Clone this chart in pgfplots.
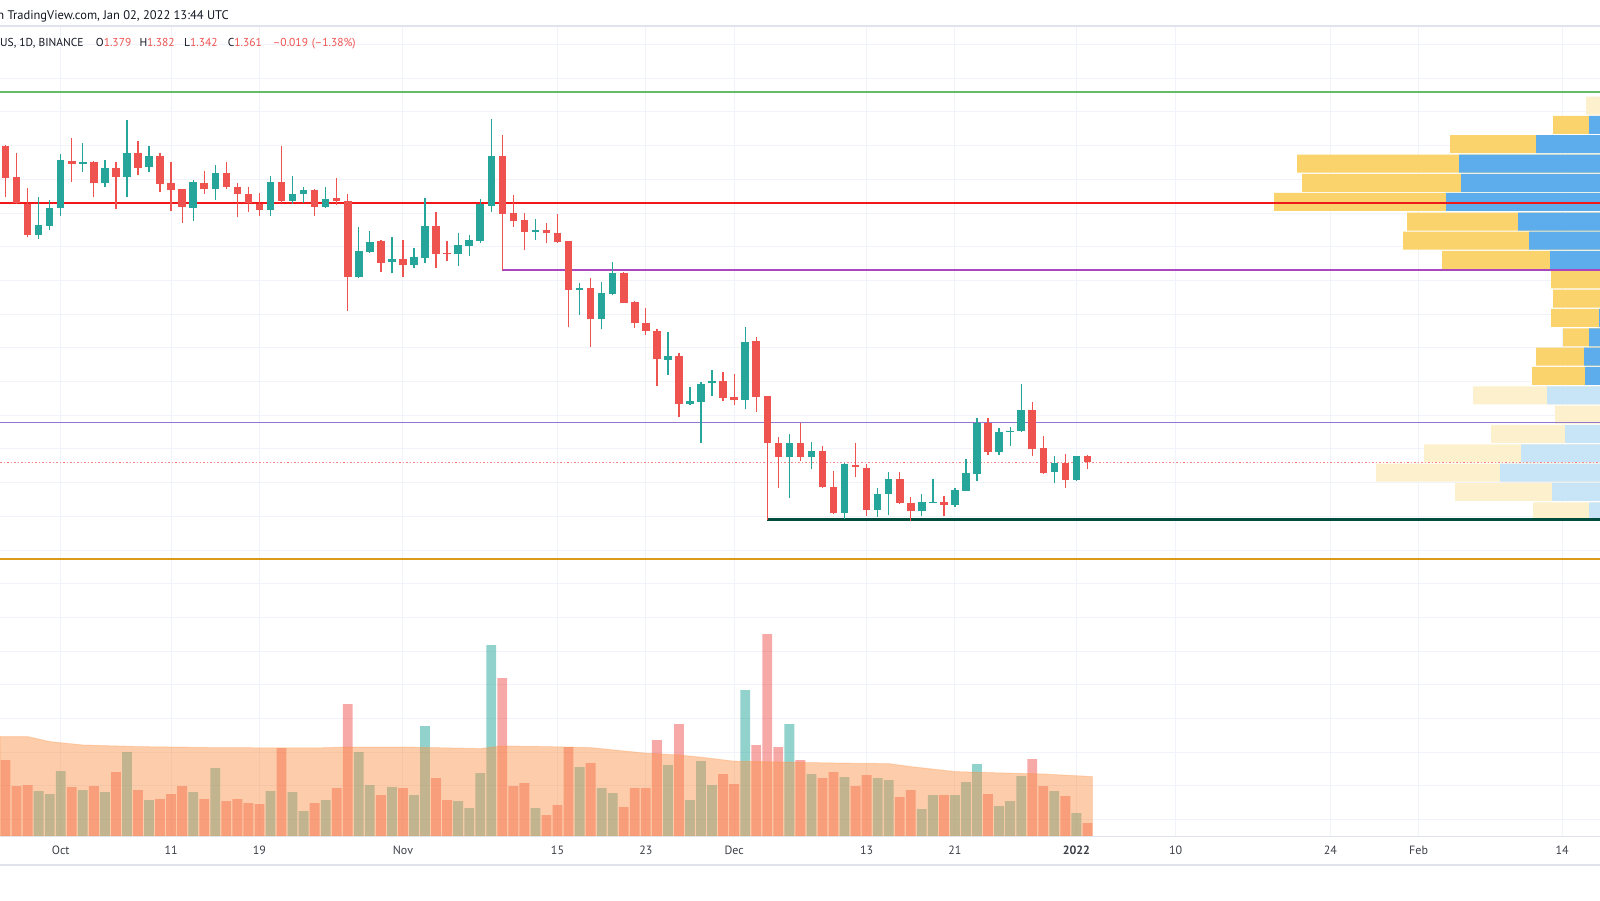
\documentclass[border=0pt]{standalone}
\usepackage{pgfplots}
\pgfplotsset{compat=1.18}
\usepackage{pgfplotstable}
\usepackage{fontspec}
\setmainfont{PT Sans}

\definecolor{tvgreen}{RGB}{38,166,154}
\definecolor{tvred}{RGB}{239,83,80}
\definecolor{gridc}{RGB}{240,243,250}
\definecolor{borderc}{RGB}{224,227,235}
\definecolor{txt}{RGB}{19,23,34}
\definecolor{ticktxt}{RGB}{60,63,72}
\definecolor{maorange}{RGB}{251,145,68}
\definecolor{vpy}{RGB}{251,211,108}
\definecolor{vpb}{RGB}{93,173,236}
\definecolor{vpyf}{RGB}{253,240,205}
\definecolor{vpbf}{RGB}{200,228,247}
\definecolor{lgreen}{RGB}{102,187,106}
\definecolor{lred}{RGB}{240,25,25}
\definecolor{lmag}{RGB}{171,71,188}
\definecolor{llav}{RGB}{149,117,205}
\definecolor{ldark}{RGB}{0,77,64}
\definecolor{lgold}{RGB}{218,155,25}

% daily candles, d = days from 1 Oct 2021, volume v in millions
\pgfplotstableread{
d o h l c v
-5 2.299 2.302 2.148 2.204 380
-4 2.206 2.278 2.127 2.130 250
-3 2.127 2.174 2.029 2.035 255
1 2.255 2.323 2.192 2.246 245
3 2.252 2.255 2.148 2.189 250
5 2.234 2.252 2.112 2.207 320
7 2.278 2.314 2.213 2.234 230
9 2.269 2.278 2.163 2.186 185
10 2.189 2.252 2.106 2.169 210
11 2.171 2.172 2.071 2.118 250
13 2.189 2.225 2.157 2.171 185
15 2.219 2.252 2.171 2.177 175
16 2.177 2.189 2.088 2.157 185
17 2.157 2.177 2.103 2.130 165
18 2.127 2.160 2.091 2.109 160
20 2.192 2.299 2.130 2.136 440
23 2.169 2.171 2.091 2.118 165
25 2.145 2.204 2.124 2.136 240
26 2.136 2.157 1.810 1.910 660
29 2.017 2.020 1.925 1.952 205
31 1.964 2.020 1.910 1.946 240
34 2.062 2.103 1.937 1.979 290
35 1.982 2.017 1.958 1.979 180
40 2.269 2.332 1.931 2.097 790
41 2.099 2.154 2.060 2.077 250
42 2.080 2.099 1.990 2.043 265
44 2.050 2.072 2.010 2.040 105
45 2.042 2.096 2.012 2.014 155
46 2.017 2.018 1.761 1.872 445
48 1.877 1.907 1.702 1.786 365
51 1.921 1.926 1.832 1.834 145
52 1.835 1.839 1.758 1.775 240
53 1.775 1.818 1.738 1.750 240
54 1.751 1.755 1.588 1.667 480
56 1.677 1.686 1.496 1.533 560
60 1.602 1.628 1.543 1.551 310
61 1.553 1.622 1.531 1.546 260
63 1.721 1.731 1.510 1.555 455
64 1.557 1.558 1.190 1.417 1010
65 1.419 1.435 1.285 1.377 445
67 1.419 1.478 1.365 1.377 380
69 1.395 1.410 1.284 1.286 290
70 1.287 1.336 1.207 1.209 320
72 1.353 1.417 1.318 1.346 250
73 1.345 1.356 1.202 1.219 305
76 1.311 1.333 1.237 1.239 195
77 1.240 1.259 1.185 1.217 230
80 1.243 1.261 1.201 1.235 205
84 1.478 1.491 1.382 1.390 210
88 1.516 1.540 1.379 1.400 385
89 1.402 1.439 1.326 1.330 250
91 1.359 1.384 1.283 1.307 200
93 1.379 1.382 1.342 1.361 65
}\dn

\pgfplotstableread{
d o h l c v
-2 2.035 2.148 2.023 2.065 225
-1 2.062 2.139 2.050 2.115 210
0 2.115 2.275 2.091 2.258 325
2 2.246 2.308 2.222 2.252 230
4 2.189 2.258 2.177 2.234 220
6 2.207 2.376 2.148 2.278 420
8 2.237 2.299 2.222 2.269 180
12 2.115 2.198 2.077 2.192 220
14 2.171 2.243 2.139 2.219 340
19 2.109 2.210 2.091 2.192 225
21 2.136 2.210 2.127 2.157 220
22 2.157 2.177 2.130 2.169 125
24 2.118 2.177 2.115 2.142 180
27 1.910 2.059 1.907 1.988 420
28 1.985 2.047 1.982 2.014 255
30 1.955 2.029 1.922 1.964 245
32 1.946 1.996 1.937 1.970 205
33 1.967 2.145 1.952 2.062 550
36 1.979 2.041 1.943 2.005 175
37 2.002 2.035 1.973 2.020 140
38 2.017 2.142 2.011 2.127 315
39 2.121 2.379 2.103 2.269 955
43 2.045 2.082 2.020 2.050 140
47 1.872 1.892 1.798 1.879 345
49 1.786 1.895 1.755 1.862 240
50 1.860 1.956 1.857 1.921 215
55 1.664 1.748 1.620 1.676 355
57 1.533 1.585 1.531 1.542 180
58 1.540 1.600 1.417 1.593 375
59 1.595 1.634 1.557 1.602 255
62 1.546 1.761 1.518 1.718 730
66 1.377 1.444 1.255 1.419 560
68 1.375 1.422 1.340 1.395 310
71 1.209 1.358 1.191 1.355 295
74 1.219 1.283 1.199 1.267 290
75 1.266 1.333 1.204 1.311 280
78 1.217 1.267 1.201 1.243 135
79 1.241 1.311 1.240 1.244 205
81 1.235 1.285 1.229 1.278 205
82 1.276 1.369 1.275 1.328 270
83 1.326 1.491 1.306 1.478 360
85 1.390 1.461 1.382 1.451 150
86 1.450 1.466 1.409 1.454 175
87 1.453 1.593 1.450 1.516 300
90 1.331 1.379 1.298 1.359 225
92 1.307 1.380 1.306 1.379 115
}\up

% volume moving average
\pgfplotstableread{
d v
-5.5 497
-3 497
-1 472
2 455
7 447
14 442
23 440
26 445
31 445
38 437
40 450
44 447
48 442
53 414
56 405
58 394
61 374
66 369
71 364
75 362
77 347
81 322
86 314
89 310
93.45 297
}\vma

% visible range volume profile: row price, total, up part
\pgfplotstableread{
p tot blue
2.362 47 11
2.305 150 64
2.247 303 141
2.190 298 139
2.133 326 154
2.075 193 82
2.018 197 71
1.961 158 50
1.903 49 0
1.846 47 0
1.789 49 1
1.731 37 11
1.674 64 16
1.617 68 15
}\vpin

\pgfplotstableread{
p tot blue
2.419 14 0
1.559 127 53
1.502 45 0
1.445 109 35
1.387 176 79
1.330 224 100
1.273 145 48
1.215 67 11
}\vpout

\pgfplotsset{
  pane/.style={scale only axis, width=1600pt, height=810pt,
    at={(0pt,0pt)}, anchor=south west, xmin=-5.5, xmax=139.43},
  prices/.style={ymin=0.2516, ymax=2.6552},
  candle/.style n args={2}{only marks, mark=*, mark size=0pt,
    mark options={draw=none, fill=none},
    error bars/.cd, y dir=plus, y explicit, error mark=none,
    error bar style={line width=#1, draw=#2}},
}

\begin{document}
\begin{tikzpicture}
\useasboundingbox (0pt,-64pt) rectangle (1600pt,836pt);

% grid and time axis
\begin{axis}[pane, prices,
  xtick={0,10,18,31,45,53,61,73,81,92,101,115,123,136},
  xticklabels={Oct,11,19,Nov,15,23,Dec,13,21,\textbf{2022},10,24,Feb,14},
  ytick={0.3,0.4,...,2.61}, yticklabels={},
  major tick length=0pt,
  xmajorgrids, ymajorgrids,
  grid style={draw=gridc, line width=1pt},
  axis line style={draw=none},
  xticklabel style={anchor=base, yshift=-18pt,
    font=\fontsize{12}{14}\selectfont, text=ticktxt},
]
\addplot[draw=none] coordinates {(0,1) (1,1)};
\end{axis}

% volume profile
\begin{axis}[pane, prices, hide axis, x dir=reverse, xmin=0, xmax=1600]
\addplot[xbar, bar width=0.0534, bar shift=0pt, fill=vpy, draw=none] table[x=tot, y=p] {\vpin};
\addplot[xbar, bar width=0.0534, bar shift=0pt, fill=vpb, draw=none] table[x=blue, y=p] {\vpin};
\addplot[xbar, bar width=0.0534, bar shift=0pt, fill=vpyf, draw=none] table[x=tot, y=p] {\vpout};
\addplot[xbar, bar width=0.0534, bar shift=0pt, fill=vpbf, draw=none] table[x=blue, y=p] {\vpout};
\end{axis}

% volume
\begin{axis}[pane, hide axis, ymin=0, ymax=4050]
\addplot[ybar, bar width=0.89, bar shift=0pt, fill=tvgreen, fill opacity=0.5, draw=none] table[x=d, y=v] {\up};
\addplot[ybar, bar width=0.89, bar shift=0pt, fill=tvred, fill opacity=0.5, draw=none] table[x=d, y=v] {\dn};
\addplot[fill=maorange, fill opacity=0.45, draw=maorange, draw opacity=0.3, line width=1pt] table[x=d, y=v] {\vma} \closedcycle;
\end{axis}

% price lines and candles
\begin{axis}[pane, prices, hide axis]
\addplot[lgold, line width=2pt] coordinates {(-5.5,1.073) (139.43,1.073)};
\addplot[lgreen, line width=2pt] coordinates {(-5.5,2.460) (139.43,2.460)};
\addplot[lred, line width=2.2pt] coordinates {(-5.5,2.129) (139.43,2.129)};
\addplot[llav, line width=1.5pt] coordinates {(-5.5,1.478) (139.43,1.478)};
\addplot[lmag, line width=2pt] coordinates {(40,1.931) (139.43,1.931)};
\addplot[ldark, line width=2.5pt] coordinates {(64,1.1905) (139.43,1.1905)};
\addplot[tvred!70, line width=1pt, dash pattern=on 1.5pt off 2pt] coordinates {(-5.5,1.361) (139.43,1.361)};

% wicks
\addplot[candle={1.3pt}{tvred}]
  table[x=d, y=l, y error plus expr=\thisrow{h}-\thisrow{l}] {\dn};
\addplot[candle={1.3pt}{tvgreen}]
  table[x=d, y=l, y error plus expr=\thisrow{h}-\thisrow{l}] {\up};
% bodies
\addplot[candle={7.5pt}{tvred}]
  table[x=d, y expr={min(\thisrow{o},\thisrow{c})},
        y error plus expr={max(abs(\thisrow{o}-\thisrow{c}),0.003)}] {\dn};
\addplot[candle={7.5pt}{tvgreen}]
  table[x=d, y expr={min(\thisrow{o},\thisrow{c})},
        y error plus expr={max(abs(\thisrow{o}-\thisrow{c}),0.003)}] {\up};
\end{axis}

% pane borders
\draw[borderc, line width=1.5pt] (0pt,810pt) -- (1600pt,810pt);
\draw[borderc, line width=1pt] (0pt,0pt) -- (1600pt,0pt);
\draw[borderc, line width=1.5pt] (0pt,-29pt) -- (1600pt,-29pt);

% header
\begin{scope}[every node/.style={inner sep=0pt, text=txt}]
\node[anchor=base east, font=\fontsize{12.5}{15}\selectfont] at (4.5pt,816pt) {on};
\node[anchor=base west, font=\fontsize{12.5}{15}\selectfont] at (7.3pt,816pt) {TradingView.com, Jan 02, 2022 13:44 UTC};
\node[anchor=base west, font=\fontsize{11.5}{14}\selectfont] at (0pt,789.3pt) {US, 1D, BINANCE};
\node[anchor=base west, font=\fontsize{11.5}{14}\selectfont] at (95.7pt,789.3pt) {O\textcolor{tvred}{1.379}};
\node[anchor=base west, font=\fontsize{11.5}{14}\selectfont] at (139.3pt,789.3pt) {H\textcolor{tvred}{1.382}};
\node[anchor=base west, font=\fontsize{11.5}{14}\selectfont] at (184pt,789.3pt) {L\textcolor{tvred}{1.342}};
\node[anchor=base west, font=\fontsize{11.5}{14}\selectfont] at (227.7pt,789.3pt) {C\textcolor{tvred}{1.361}};
\node[anchor=base west, font=\fontsize{11.5}{14}\selectfont, text=tvred] at (272.7pt,789.3pt) {–0.019};
\node[anchor=base west, font=\fontsize{11.5}{14}\selectfont, text=tvred] at (311.7pt,789.3pt) {(–1.38\%)};
\end{scope}
\end{tikzpicture}
\end{document}
